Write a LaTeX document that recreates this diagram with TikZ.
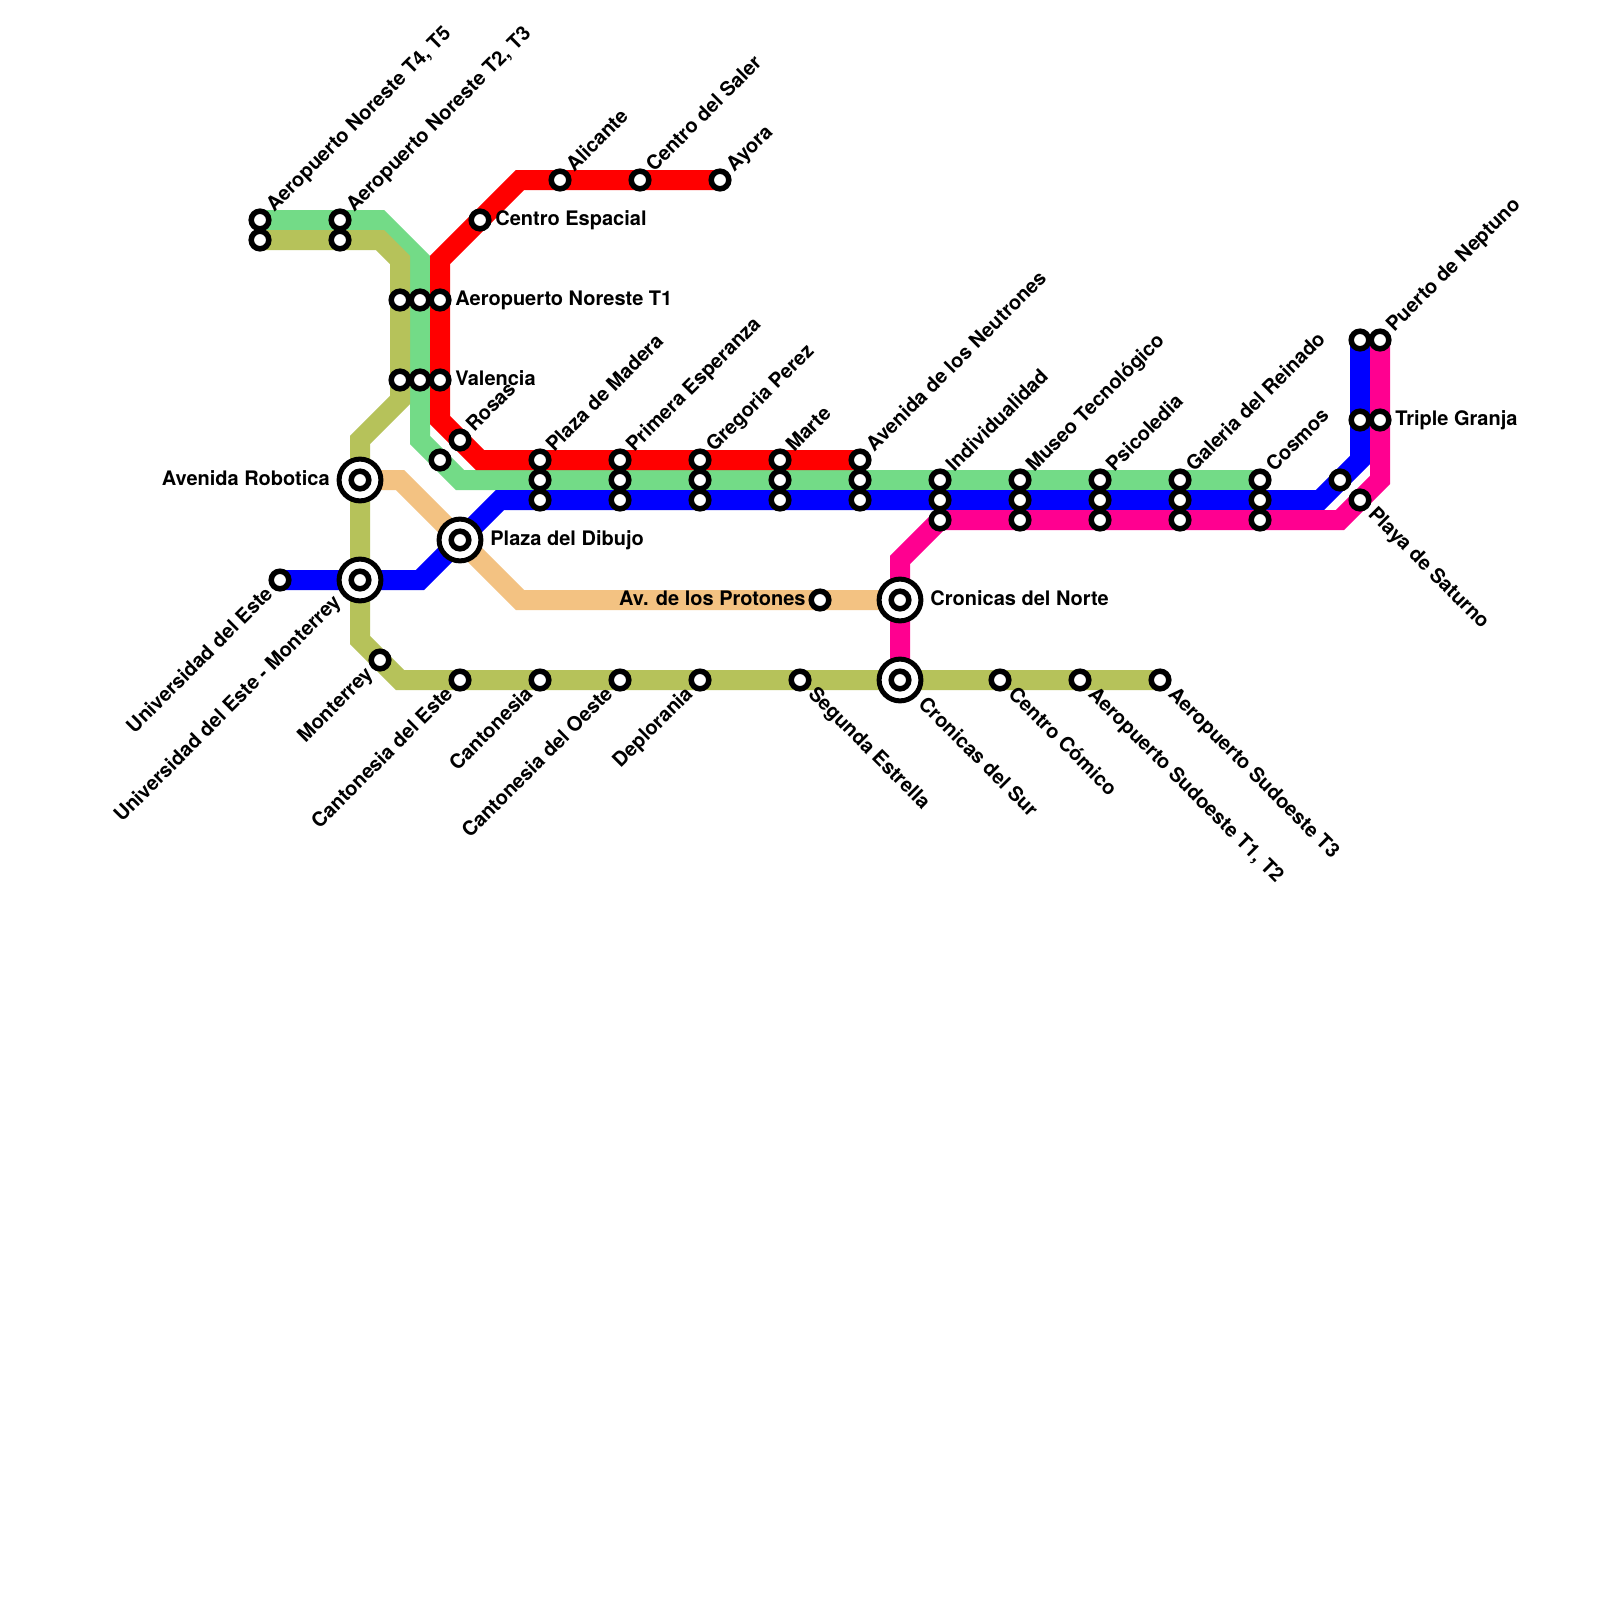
\documentclass[tikz,border=0pt]{standalone}
\usepackage{fontspec}
\setmainfont{TeX Gyre Heros}
\usetikzlibrary{backgrounds}
\definecolor{cGreen}{HTML}{73DB87}
\definecolor{cOlive}{HTML}{B6C25A}
\definecolor{cRed}{HTML}{FF0000}
\definecolor{cBlue}{HTML}{0000FF}
\definecolor{cPink}{HTML}{FF0090}
\definecolor{cTan}{HTML}{F3C282}
\tikzset{
  x=0.5pt,y=-0.5pt,
  metro/.style={line width=10pt,line join=miter,line cap=butt},
  stn/.style={circle,draw=black,fill=white,line width=2.75pt,minimum size=8.8pt,inner sep=0pt,outer sep=0pt},
  hub/.style={circle,draw=black,fill=white,line width=2.5pt,minimum size=20.9pt,inner sep=0pt,outer sep=0pt},
  lab/.style={font=\fontsize{10pt}{12pt}\selectfont\bfseries,inner sep=0pt,text=black},
  labE/.style={lab,anchor=base west,shift={(15,5)}},
  labEE/.style={lab,anchor=base west,shift={(30,5)}},
  labW/.style={lab,anchor=base east,shift={(-14,5)}},
  labWW/.style={lab,anchor=base east,shift={(-30,5)}},
  labNE/.style={lab,shift={(14,-7)},rotate=45,anchor=base west},
  labSW/.style={lab,shift={(-6,15)},rotate=45,anchor=base east},
  labSWW/.style={lab,shift={(-18,23)},rotate=45,anchor=base east},
  labSE/.style={lab,shift={(7,15)},rotate=-45,anchor=base west},
  labSEE/.style={lab,shift={(17,25)},rotate=-45,anchor=base west},
}
\begin{document}
\begin{tikzpicture}
\useasboundingbox (0,0) rectangle (1600,1600);
% hubs
\node[hub] (hRobotica) at (360,480) {};
\node[hub] (hMonterrey) at (360,580) {};
\node[hub] (hDibujo) at (460,540) {};
\node[hub] (hNorte) at (900,600) {};
\node[hub] (hSur) at (900,680) {};
% stations
\node[stn] (iRobotica) at (hRobotica) {};
\node[stn] (iMonterrey) at (hMonterrey) {};
\node[stn] (iDibujo) at (hDibujo) {};
\node[stn] (iNorte) at (hNorte) {};
\node[stn] (iSur) at (hSur) {};
\node[stn] (t45) at (260,220) {};
\node[stn] (t45b) at (260,240) {};
\node[stn] (t23) at (340,220) {};
\node[stn] (t23b) at (340,240) {};
\node[stn] (t1a) at (400,300) {};
\node[stn] (t1b) at (420,300) {};
\node[stn] (t1c) at (440,300) {};
\node[stn] (vala) at (400,380) {};
\node[stn] (valb) at (420,380) {};
\node[stn] (valc) at (440,380) {};
\node[stn] (rosA) at (440,460) {};
\node[stn] (rosB) at (460,440) {};
\node[stn] (espacial) at (480,220) {};
\node[stn] (alicante) at (560,180) {};
\node[stn] (saler) at (640,180) {};
\node[stn] (ayora) at (720,180) {};
\node[stn] (madA) at (540,460) {};
\node[stn] (madB) at (540,480) {};
\node[stn] (madC) at (540,500) {};
\node[stn] (priA) at (620,460) {};
\node[stn] (priB) at (620,480) {};
\node[stn] (priC) at (620,500) {};
\node[stn] (greA) at (700,460) {};
\node[stn] (greB) at (700,480) {};
\node[stn] (greC) at (700,500) {};
\node[stn] (marA) at (780,460) {};
\node[stn] (marB) at (780,480) {};
\node[stn] (marC) at (780,500) {};
\node[stn] (neuA) at (860,460) {};
\node[stn] (neuB) at (860,480) {};
\node[stn] (neuC) at (860,500) {};
\node[stn] (indA) at (940,480) {};
\node[stn] (indB) at (940,500) {};
\node[stn] (indC) at (940,520) {};
\node[stn] (musA) at (1020,480) {};
\node[stn] (musB) at (1020,500) {};
\node[stn] (musC) at (1020,520) {};
\node[stn] (psiA) at (1100,480) {};
\node[stn] (psiB) at (1100,500) {};
\node[stn] (psiC) at (1100,520) {};
\node[stn] (galA) at (1180,480) {};
\node[stn] (galB) at (1180,500) {};
\node[stn] (galC) at (1180,520) {};
\node[stn] (cosA) at (1260,480) {};
\node[stn] (cosB) at (1260,500) {};
\node[stn] (cosC) at (1260,520) {};
\node[stn] (blueX) at (1340,480) {};
\node[stn] (saturno) at (1360,500) {};
\node[stn] (nepA) at (1360,340) {};
\node[stn] (nepB) at (1380,340) {};
\node[stn] (graA) at (1360,420) {};
\node[stn] (graB) at (1380,420) {};
\node[stn] (uEste) at (280,580) {};
\node[stn] (mont) at (380,660) {};
\node[stn] (cEste) at (460,680) {};
\node[stn] (canton) at (540,680) {};
\node[stn] (cOeste) at (620,680) {};
\node[stn] (deplo) at (700,680) {};
\node[stn] (segunda) at (800,680) {};
\node[stn] (comico) at (1000,680) {};
\node[stn] (sud12) at (1080,680) {};
\node[stn] (sud3) at (1160,680) {};
\node[stn] (proton) at (820,600) {};
% lines
\begin{scope}[on background layer]
\fill[white] (0,0) rectangle (1600,1600);
\draw[metro,cTan] (hRobotica.center) -- (400,480) -- (520,600) -- (hNorte.center);
\draw[metro,cGreen] (t45.center) -- (380,220) -- (420,260) -- (420,440) -- (460,480) -- (cosA.center);
\draw[metro,cOlive] (t45b.center) -- (380,240) -- (400,260) -- (400,400) -- (360,440) -- (360,640) -- (400,680) -- (sud3.center);
\draw[metro,cRed] (ayora.center) -- (520,180) -- (440,260) -- (440,420) -- (480,460) -- (neuA.center);
\draw[metro,cBlue] (uEste.center) -- (420,580) -- (500,500) -- (1320,500) -- (1360,460) -- (nepA.center);
\draw[metro,cPink] (nepB.center) -- (1380,480) -- (1340,520) -- (940,520) -- (900,560) -- (hSur.center);
\end{scope}
% labels
\node[labNE] (l01) at (t45) {Aeropuerto Noreste T4, T5};
\node[labNE] (l02) at (t23) {Aeropuerto Noreste T2, T3};
\node[labNE] (l03) at (alicante) {Alicante};
\node[labNE] (l04) at (saler) {Centro del Saler};
\node[labNE] (l05) at (ayora) {Ayora};
\node[labNE] (l06) at (rosB) {Rosas};
\node[labNE] (l07) at (madA) {Plaza de Madera};
\node[labNE] (l08) at (priA) {Primera Esperanza};
\node[labNE] (l09) at (greA) {Gregoria Perez};
\node[labNE] (l10) at (marA) {Marte};
\node[labNE] (l11) at (neuA) {Avenida de los Neutrones};
\node[labNE] (l12) at (indA) {Individualidad};
\node[labNE] (l13) at (musA) {Museo Tecnológico};
\node[labNE] (l14) at (psiA) {Psicoledia};
\node[labNE] (l15) at (galA) {Galeria del Reinado};
\node[labNE] (l16) at (cosA) {Cosmos};
\node[labNE] (l17) at (nepB) {Puerto de Neptuno};
\node[labE] (l18) at (espacial) {Centro Espacial};
\node[labE] (l19) at (t1c) {Aeropuerto Noreste T1};
\node[labE] (l20) at (valc) {Valencia};
\node[labEE] (l21) at (hDibujo) {Plaza del Dibujo};
\node[labEE] (l22) at (hNorte) {Cronicas del Norte};
\node[labE] (l23) at (graB) {Triple Granja};
\node[labWW] (l24) at (hRobotica) {Avenida Robotica};
\node[labW] (l25) at (proton) {Av. de los Protones};
\node[labSW] (l26) at (uEste) {Universidad del Este};
\node[labSWW] (l27) at (hMonterrey) {Universidad del Este - Monterrey};
\node[labSW] (l28) at (mont) {Monterrey};
\node[labSW] (l29) at (cEste) {Cantonesia del Este};
\node[labSW] (l30) at (canton) {Cantonesia};
\node[labSW] (l31) at (cOeste) {Cantonesia del Oeste};
\node[labSW] (l32) at (deplo) {Deplorania};
\node[labSE] (l33) at (segunda) {Segunda Estrella};
\node[labSEE] (l34) at (hSur) {Cronicas del Sur};
\node[labSE] (l35) at (comico) {Centro Cómico};
\node[labSE] (l36) at (sud12) {Aeropuerto Sudoeste T1, T2};
\node[labSE] (l37) at (sud3) {Aeropuerto Sudoeste T3};
\node[labSE] (l38) at (saturno) {Playa de Saturno};
\end{tikzpicture}
\end{document}
